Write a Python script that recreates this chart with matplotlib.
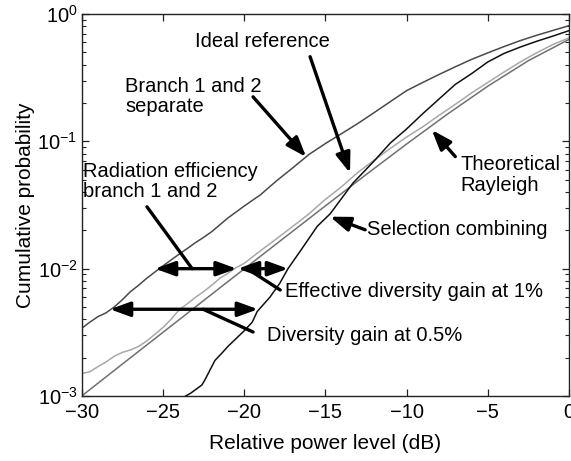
import matplotlib
matplotlib.use("Agg")
import matplotlib.pyplot as plt
import numpy as np

plt.rcParams['font.family'] = ['Liberation Sans', 'DejaVu Sans']
plt.rcParams['mathtext.fontset'] = 'custom'
plt.rcParams['mathtext.rm'] = 'Liberation Sans'
plt.rcParams['mathtext.it'] = 'Liberation Sans:italic'
plt.rcParams['mathtext.bf'] = 'Liberation Sans:bold'

# ---------------- data ----------------
rayleigh_x = [-30, -27.5, -25, -22.5, -20, -17.5, -15, -12.5, -10, -7.5, -5, -2.5, 0]
rayleigh_y = [0.0010, 0.00178, 0.00316, 0.00561, 0.00995, 0.0176, 0.0311, 0.0547,
              0.0952, 0.163, 0.271, 0.430, 0.632]

ideal_x = [-30, -29.5, -29, -28.5, -28, -27.5, -27, -26.5, -26, -25.5, -25, -24.5, -24,
           -23.5, -23, -22.5, -22, -21.5, -21, -20.5, -20, -19, -18, -17, -16, -15, -14,
           -13, -12, -11, -10, -9, -8, -7, -6, -5, -4, -3, -2, -1, 0]
ideal_y = [0.0015, 0.00155, 0.0017, 0.00185, 0.00205, 0.0022, 0.0023, 0.00245, 0.0027,
           0.00305, 0.00345, 0.0040, 0.00475, 0.0053, 0.00595, 0.0066, 0.0074, 0.0084,
           0.0092, 0.0102, 0.0110, 0.0138, 0.0172, 0.0215, 0.027, 0.035, 0.044, 0.057,
           0.071, 0.088, 0.108, 0.130, 0.160, 0.195, 0.240, 0.290, 0.350, 0.420, 0.495,
           0.575, 0.650]

branch_x = [-30, -29.5, -29, -28.5, -28, -27.5, -27, -26.5, -26, -25.5, -25, -24.5, -24,
            -23.5, -23, -22.5, -22, -21, -20, -19, -18, -17, -16, -15, -14, -13, -12, -11,
            -10, -9, -8, -7, -6, -5, -4, -3, -2, -1, 0]
branch_y = [0.0034, 0.0038, 0.0042, 0.0045, 0.0050, 0.0057, 0.0066, 0.0074, 0.0084,
            0.0094, 0.0105, 0.0117, 0.0130, 0.0144, 0.0160, 0.0176, 0.0195, 0.025, 0.031,
            0.038, 0.049, 0.062, 0.079, 0.096, 0.115, 0.138, 0.168, 0.205, 0.250, 0.290,
            0.335, 0.385, 0.440, 0.495, 0.555, 0.618, 0.680, 0.742, 0.810]

sc_x = [-23.6, -23.3, -23.0, -22.6, -22.4, -22.1, -21.8, -21.4, -21.0, -20.4, -20.0, -19.5,
        -19.2, -18.4, -17.8, -17.3, -16.5, -15.5, -14.7, -13.3, -12, -11, -10, -9, -8, -7,
        -6, -5, -4, -3, -2, -1, 0]
sc_y = [0.0010, 0.00105, 0.00112, 0.00122, 0.00135, 0.0016, 0.0019, 0.00215, 0.00245,
        0.0029, 0.00325, 0.0038, 0.0046, 0.0060, 0.0077, 0.0100, 0.0140, 0.0215, 0.027,
        0.047, 0.070, 0.097, 0.125, 0.165, 0.215, 0.280, 0.340, 0.420, 0.490, 0.550,
        0.610, 0.670, 0.740]

x_ticks = [-30, -25, -20, -15, -10, -5, 0]
x_label = "Relative power level (dB)"
y_label = "Cumulative probability"

# ---------------- figure ----------------
fig = plt.figure(figsize=(5.71, 4.61), dpi=100)
ax = fig.add_axes([81.7 / 571, 1 - 396 / 461, (569 - 81.7) / 571, (396 - 14) / 461])

ax.plot(rayleigh_x, rayleigh_y, color='#707070', lw=1.1, zorder=2)
ax.plot(ideal_x, ideal_y, color='#a8a8a8', lw=1.1, zorder=2)
ax.plot(branch_x, branch_y, color='#4a4a4a', lw=1.1, zorder=2)
ax.plot(sc_x, sc_y, color='#111111', lw=1.1, zorder=2)

FS = 14.5

ax.set_yscale('log')
ax.set_xlim(-30, 0)
ax.set_ylim(1e-3, 1)
ax.set_xticks(x_ticks)
ax.set_xticklabels(['\u221230', '\u221225', '\u221220', '\u221215', '\u221210', '\u22125', '0'])
ax.tick_params(axis='both', which='both', direction='in', top=True, right=True,
               labelsize=FS, color='#222222')
ax.tick_params(axis='both', which='major', length=5, width=0.9)
ax.tick_params(axis='y', which='minor', length=3, width=0.8)
ax.tick_params(axis='x', which='major', pad=5)
ax.tick_params(axis='y', which='major', pad=3)
for s in ax.spines.values():
    s.set_linewidth(1.0)
    s.set_color('#222222')

ax.set_xlabel(x_label, fontsize=15, labelpad=9)
ax.set_ylabel(y_label, fontsize=15, labelpad=2)

AL = dict(color='black', lw=2.4, shrinkA=0, shrinkB=0)

def arrow(xy, xytext, style='-|>'):
    ax.annotate('', xy=xy, xytext=xytext,
                arrowprops=dict(arrowstyle=style + ',head_length=1.1,head_width=0.4',
                                mutation_scale=11, **AL), zorder=5)

def plain(p0, p1):
    ax.annotate('', xy=p1, xytext=p0,
                arrowprops=dict(arrowstyle='-', **AL), zorder=5)

# Texts
ax.text(-23.0, 0.604, 'Ideal reference', fontsize=FS, va='center', ha='left')
ax.text(-27.33, 0.2255, 'Branch 1 and 2\nseparate', fontsize=FS, va='center', ha='left',
        linespacing=1.1)
ax.text(-29.92, 0.0484, 'Radiation efficiency\nbranch 1 and 2', fontsize=FS, va='center',
        ha='left', linespacing=1.1)
ax.text(-6.7, 0.0545, 'Theoretical\nRayleigh', fontsize=FS, va='center', ha='left',
        linespacing=1.1)
ax.text(-12.43, 0.0202, 'Selection combining', fontsize=FS, va='center', ha='left')
ax.text(-17.48, 0.00656, 'Effective diversity gain at 1%', fontsize=FS, va='center', ha='left')
ax.text(-18.6, 0.00296, 'Diversity gain at 0.5%', fontsize=FS, va='center', ha='left')

# Pointer arrows
arrow((-13.48, 0.0564), (-15.94, 0.462))
arrow((-16.18, 0.0753), (-19.45, 0.2235))
arrow((-8.45, 0.123), (-7.0, 0.0759))
arrow((-14.71, 0.0256), (-12.55, 0.0202))

# Double arrows
arrow((-20.46, 0.01), (-25.49, 0.01), style='<|-|>')
arrow((-17.3, 0.01), (-20.38, 0.01), style='<|-|>')
arrow((-19.15, 0.0048), (-28.26, 0.0048), style='<|-|>')

# Plain connector lines
plain((-25.98, 0.0306), (-23.2, 0.01))
plain((-19.81, 0.01), (-17.78, 0.0068))
plain((-22.52, 0.0048), (-19.45, 0.00318))

fig.savefig('out.png', dpi=100)
